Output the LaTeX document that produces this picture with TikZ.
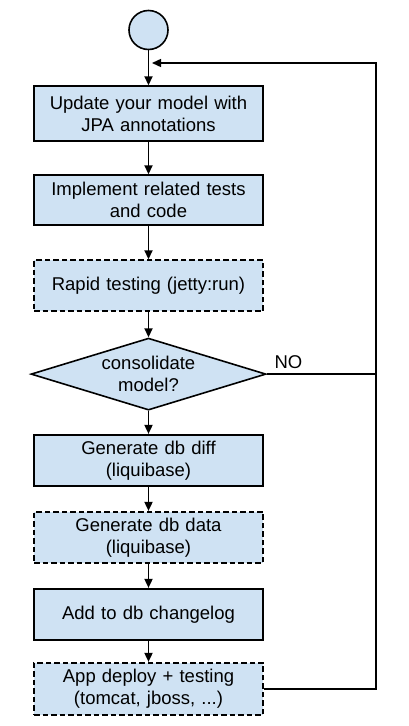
\documentclass[tikz,border=0pt]{standalone}
\usepackage{fontspec}
\setmainfont{Liberation Sans}
\usetikzlibrary{shapes.geometric, arrows.meta, positioning}
\definecolor{boxblue}{RGB}{207,226,243}

\begin{document}
\begin{tikzpicture}[x=1pt, y=-1pt, node distance=24pt,
    font=\fontsize{18.5}{22}\selectfont,
    process/.style={draw, line width=2pt, fill=boxblue, text width=221pt, minimum width=229pt, minimum height=51pt, inner sep=4pt, align=center},
    optional/.style={process, dash pattern=on 5.5pt off 3pt},
    decision/.style={draw, diamond, line width=1.6pt, fill=boxblue, aspect=3.26, inner sep=0pt, minimum width=235pt, minimum height=72pt, align=center},
    flow/.style={-{Triangle[length=9pt,width=8pt]}, line width=1.7pt},
    back/.style={line width=1.4pt}]
        \useasboundingbox (0,0) rectangle (408,726);

        \node[draw, circle, line width=1.6pt, fill=boxblue, minimum size=39pt] (start) at (148.5,30) {};
        \node[process, minimum height=55pt, below=35pt of start] (update) {Update your model with\\JPA annotations};
        \node[process, minimum height=50pt, below=32pt of update] (implement) {Implement related tests\\and code};
        \node[optional, below=33pt of implement] (rapid) {Rapid testing (jetty:run)};
        \node[decision, below=25pt of rapid] (consolidate) {consolidate\\model?};
        \node[process, below=23pt of consolidate] (dbdiff) {Generate db diff\\(liquibase)};
        \node[optional, below=of dbdiff] (dbdata) {Generate db data\\(liquibase)};
        \node[process, below=of dbdata] (changelog) {Add to db changelog};
        \node[optional, minimum height=52pt, below=21pt of changelog] (deploy) {App deploy + testing\\(tomcat, jboss, ...)};

        \node[anchor=base west, inner sep=0pt] (no) at ([xshift=7.5pt, yshift=6pt]consolidate.east) {NO};

        \coordinate (loopright) at (376,0);
        \coordinate (loopback) at (152,63);

        \draw[flow] (start) -- (update);
        \draw[flow] (update) -- (implement);
        \draw[flow] (implement) -- (rapid);
        \draw[flow] (rapid) -- (consolidate);
        \draw[flow] (consolidate) -- (dbdiff);
        \draw[flow] (dbdiff) -- (dbdata);
        \draw[flow] (dbdata) -- (changelog);
        \draw[flow] (changelog) -- (deploy);

        \draw[back] (consolidate.east) -- (consolidate.east -| loopright);
        \draw[back, -{Triangle[length=9pt,width=8pt]}] (deploy.east) -| (loopright |- loopback) -- (loopback);
    \end{tikzpicture}
\end{document}
